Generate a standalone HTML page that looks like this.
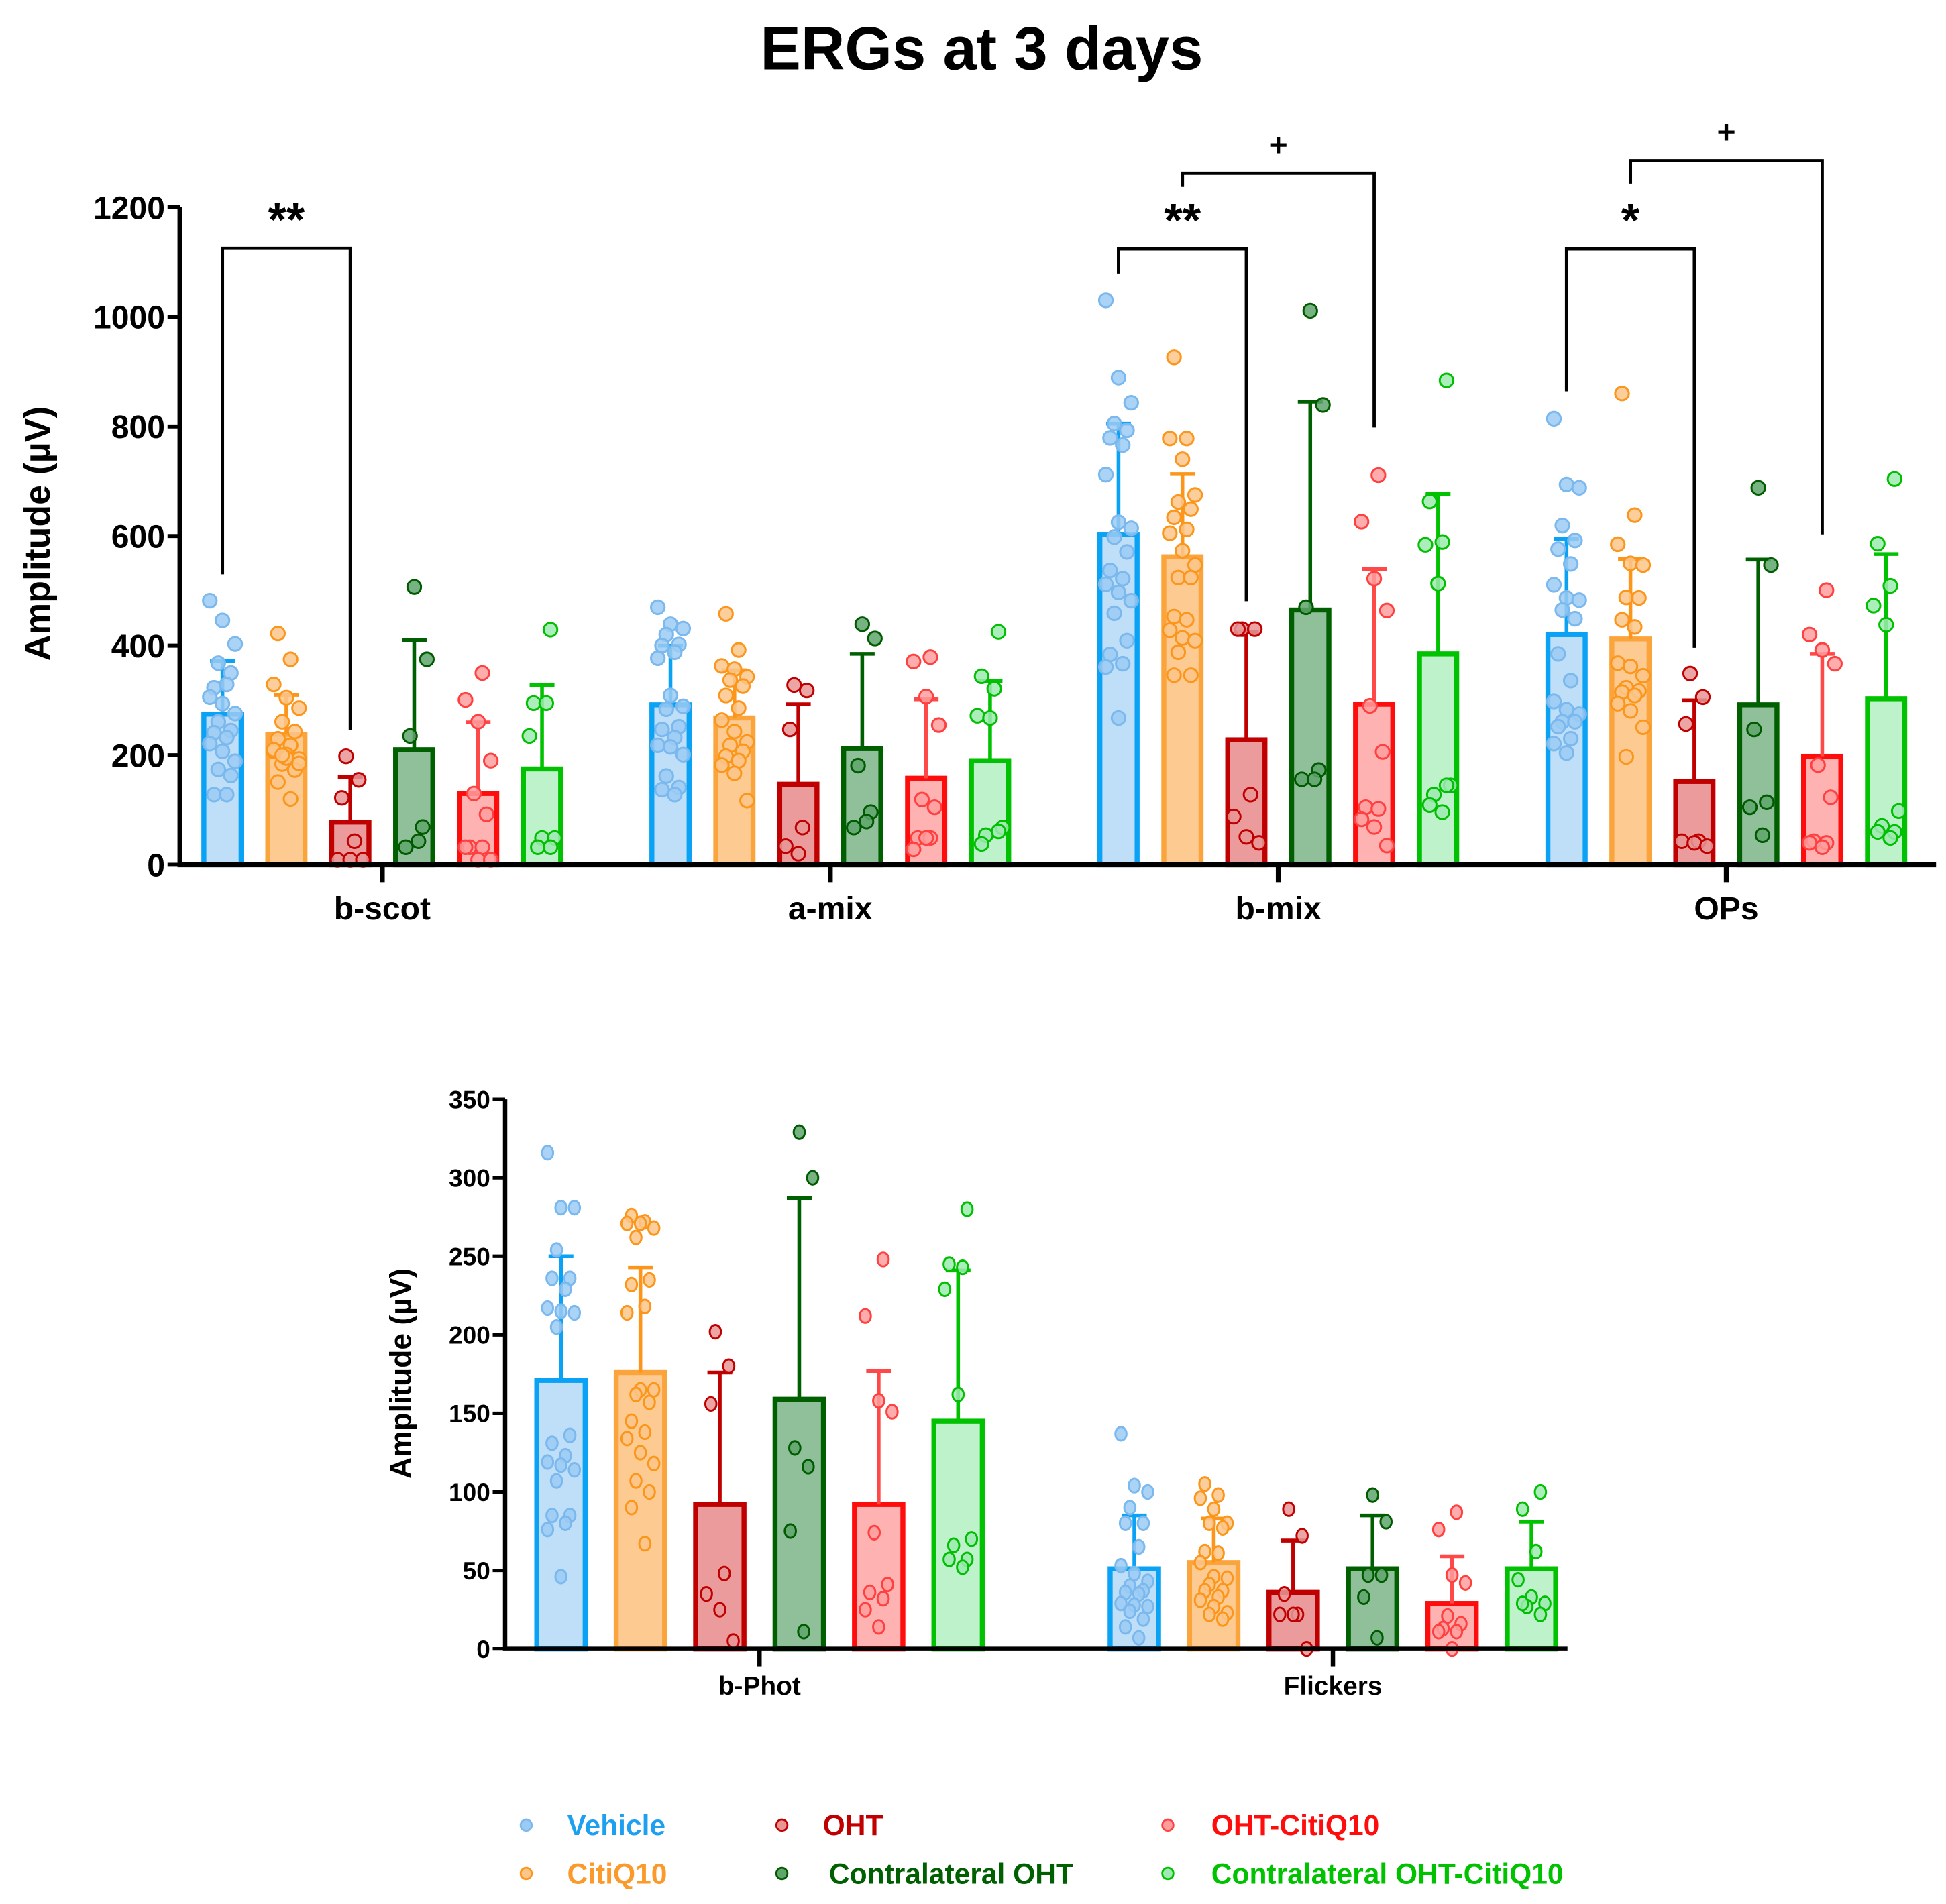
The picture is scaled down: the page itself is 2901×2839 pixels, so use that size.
<!DOCTYPE html>
<html><head><meta charset="utf-8"><style>
html,body{margin:0;padding:0;background:#fff;}
svg{display:block;font-family:"Liberation Sans",Arial,sans-serif;font-weight:bold;}
</style></head><body>
<svg id="chart" width="2901" height="2839" viewBox="0 0 1568 1534.6" preserveAspectRatio="none" xmlns="http://www.w3.org/2000/svg">
<text x="791" y="56" font-size="49" text-anchor="middle">ERGs at 3 days</text>
<g id="top"></g><g id="bottom"></g><g id="legend"></g>
</svg>
<script>
const topCategories = ["b-scot","a-mix","b-mix","OPs"];
const topTicks = [0,200,400,600,800,1000,1200];
const topMeans = [[275,238,78,210,130,175],[292,268,147,212,158,190],[603,562,228,465,293,385],[420,412,152,292,198,303]];
const topSD = [[372,310,160,410,260,328],[400,355,293,385,302,335],[805,713,425,845,540,677],[595,558,300,557,385,567]];
const topPoints = [
 [[482,446,403,368,350,323,329,306,294,276,261,245,241,232,221,207,189,174,163,128,128],
  [422,375,329,305,286,261,243,230,218,207,201,193,184,173,151,120,210,195,185,200],
  [198,155,122,43,9,9,9],
  [507,375,235,69,32,43],
  [350,301,261,190,130,92,32,32,32,9,9],
  [429,295,295,235,49,49,32,32]],
 [[470,439,431,420,402,400,388,377,309,289,284,252,247,232,218,215,201,162,141,137,128],
  [458,392,363,357,343,337,326,309,286,264,243,224,218,207,198,190,182,167,117],
  [328,318,247,68,34,20],
  [439,413,181,96,68,79],
  [379,371,307,255,119,105,49,49,28,49],
  [425,344,321,272,268,68,54,61,38]],
 [[1030,889,843,805,793,779,766,712,625,614,598,571,537,522,512,497,482,459,409,384,367,361,268],
  [926,778,778,740,675,662,649,634,612,605,573,547,524,524,453,447,428,414,409,388,346,346],
  [430,430,430,128,88,51,40],
  [1011,839,470,173,156,156],
  [711,626,522,464,290,206,105,102,83,69,35],
  [884,663,589,584,513,145,128,145,109,96]],
 [[814,694,688,619,592,576,549,511,487,483,465,449,385,336,298,283,275,261,261,252,230,221,204],
  [860,638,585,550,547,488,487,447,434,368,362,345,323,317,315,309,294,281,251,197],
  [349,306,257,43,43,40,34],
  [688,547,247,114,105,54],
  [501,420,392,367,182,123,43,40,40,32],
  [704,586,509,473,438,98,71,60,60,49]]
];
const botCategories = ["b-Phot","Flickers"];
const botTicks = [0,50,100,150,200,250,300,350];
const botMeans = [[171,176,92,159,92,145],[51,55,36,51,29,51]];
const botSD = [[250,243,176,287,177,241],[85,83,69,85,59,81]];
const botPoints = [
 [[316,281,281,254,236,236,229,217,215,214,205,136,131,123,119,117,114,107,85,85,80,76,46],
  [276,272,271,271,268,262,235,232,218,214,165,165,162,157,145,138,134,125,118,107,100,90,67],
  [202,180,156,48,35,25,5],
  [329,300,128,116,75,11],
  [248,212,158,151,74,41,36,32,25,14],
  [280,245,243,229,162,70,66,57,57,52]],
 [[137,104,100,90,80,80,65,53,48,43,40,37,36,35,29,28,27,24,19,14,7],
  [105,98,96,89,80,80,77,62,61,55,46,45,41,37,37,33,31,27,23,22,19],
  [89,72,35,22,22,22,0],
  [98,81,47,47,33,7],
  [87,76,47,42,21,16,13,11,11,0],
  [100,89,62,44,33,29,27,22,29]]
];
const seriesNames = ["Vehicle","CitiQ10","OHT","Contralateral OHT","OHT-CitiQ10","Contralateral OHT-CitiQ10"];
const sigLabels = ["**","**","+","*","+"];

const ST = [
 {s:'#0aa2f5',f:'#bfdff8',pf:'#9bcbf3',ps:'#7ab8ee',e:'#0aa2f5',t:'#1ea0f0'},
 {s:'#fba43c',f:'#fdcb92',pf:'#fcc589',ps:'#fb961a',e:'#fb961a',t:'#fb9a2a'},
 {s:'#c00000',f:'#eb9b9b',pf:'#e79595',ps:'#c00000',e:'#c00000',t:'#c00000'},
 {s:'#006000',f:'#8fc09a',pf:'#5fa56c',ps:'#005a00',e:'#005f00',t:'#005f00'},
 {s:'#ff0d0d',f:'#ffb2b2',pf:'#ff9d9d',ps:'#ff4040',e:'#ff4848',t:'#ff0d0d'},
 {s:'#00c200',f:'#bdf2cb',pf:'#9eeab0',ps:'#00bf00',e:'#00c200',t:'#00c200'}
];
const NS='http://www.w3.org/2000/svg';
function mk(parent,tag,attrs){const e=document.createElementNS(NS,tag);for(const k in attrs)e.setAttribute(k,attrs[k]);parent.appendChild(e);return e;}

function drawChart(g,cfg){
 const y=v=>cfg.y0-(v-0)*(cfg.y0-cfg.yTop)/cfg.max;
 const gx=i=>cfg.g0+i*cfg.gStep;
 const bx=(i,j)=>gx(i)+(j-2.5)*cfg.bStep;
 cfg.means.forEach((ms,i)=>{ms.forEach((m,j)=>{
  const st=ST[j];
  const bar=mk(g,'rect',{x:bx(i,j)-cfg.bw/2,y:y(m),width:cfg.bw,height:y(0)-y(m),fill:st.f,stroke:st.s,'stroke-width':cfg.sw});
  
  
  const sd=cfg.sd[i][j];
  const eb=mk(g,'path',{d:`M${bx(i,j)},${y(m)}V${y(sd)}M${bx(i,j)-cfg.cap},${y(sd)}H${bx(i,j)+cfg.cap}`,stroke:st.e,'stroke-width':cfg.sw*0.75,fill:'none'});
  
  
  cfg.pts[i][j].forEach((v,k)=>{
   const off=(((k*3+j)%7)-3)*cfg.jit;
   const c=mk(g,'ellipse',{cx:bx(i,j)+off,cy:y(v),rx:cfg.r,ry:cfg.ry,fill:st.pf,stroke:st.ps,'stroke-width':1.6,'fill-opacity':0.85});
   
   
  });
 });});
 const ax=mk(g,'path',{d:`M${cfg.ax},${cfg.yTop}V${cfg.y0}H${cfg.xEnd}`,stroke:'#000','stroke-width':cfg.aw,fill:'none'});
 
 
 cfg.ticks.forEach(t=>{
  mk(g,'line',{x1:cfg.ax-cfg.tl,x2:cfg.ax,y1:y(t),y2:y(t),stroke:'#000','stroke-width':cfg.aw*0.8});
  const tx=mk(g,'text',{x:cfg.ax-cfg.tl-2,y:y(t)+cfg.tfs*0.36,'font-size':cfg.tfs,'text-anchor':'end'});
  tx.textContent=t;
  
  
 });
 cfg.cats.forEach((c,i)=>{
  mk(g,'line',{x1:gx(i),x2:gx(i),y1:cfg.y0,y2:cfg.y0+cfg.ctl,stroke:'#000','stroke-width':cfg.aw});
  const tx=mk(g,'text',{x:gx(i),y:cfg.catY,'font-size':cfg.cfs,'text-anchor':'middle'});
  tx.textContent=c;
  
  
 });
 const yl=mk(g,'text',{x:0,y:0,'font-size':cfg.lfs,'text-anchor':'middle',transform:`translate(${cfg.lx},${cfg.ly}) rotate(-90)`});
 yl.textContent='Amplitude (µV)';
 
 
 return {y,bx};
}

const T=drawChart(document.getElementById('top'),{y0:697,yTop:167,max:1200,g0:308,gStep:361,bStep:51.5,bw:30,sw:4,cap:10,r:5.5,ry:5.5,jit:3.4,
 ax:145,xEnd:1560,aw:4,tl:10,tfs:26,ticks:topTicks,cats:topCategories,means:topMeans,sd:topSD,pts:topPoints,ctl:14,catY:741,cfs:26,lfs:29,lx:40,ly:430});
drawChart(document.getElementById('bottom'),{y0:1329,yTop:886,max:350,g0:612,gStep:462,bStep:64,bw:39,sw:4,cap:10,r:4.5,ry:5.5,jit:3.6,
 ax:407,xEnd:1263,aw:3.5,tl:10,tfs:20,ticks:botTicks,cats:botCategories,means:botMeans,sd:botSD,pts:botPoints,ctl:14,catY:1366,cfs:21,lfs:24,lx:331,ly:1107});

const brackets=[[0,0,2,530,1125,246],[2,0,2,1079,1124,481],[2,1,4,1237,1262,798],[3,0,2,864,1124,396],[3,1,4,1243,1285,603]];
const tg=document.getElementById('top');
brackets.forEach((b,k)=>{
 const x1=T.bx(b[0],b[1]),x2=T.bx(b[0],b[2]);
 const p=mk(tg,'path',{d:`M${x1},${T.y(b[3])}V${T.y(b[4])}H${x2}V${T.y(b[5])}`,stroke:'#000','stroke-width':2.6,fill:'none'});
 
 
 const plus=sigLabels[k]==='+';
 const t=mk(tg,'text',{x:(x1+x2)/2,y:T.y(b[4])-(plus?14:-2)-(plus?0:12),'font-size':plus?26:38,'text-anchor':'middle'});
 t.textContent=sigLabels[k];
 
 
});

const lg=document.getElementById('legend');
const lpos=[[424,1471],[630,1471],[941,1471],[424,1510],[630,1510],[941,1510]];
const lorder=[0,2,4,1,3,5];
const ltx=[457,663,976,457,668,976];
lorder.forEach((si,k)=>{
 const [x,yy]=lpos[k];
 const c=mk(lg,'circle',{cx:x,cy:yy,r:4.5,fill:ST[si].pf,stroke:ST[si].ps,'stroke-width':1.5});
 
 
 const t=mk(lg,'text',{x:ltx[k],y:yy+8,'font-size':23,fill:ST[si].t});
 t.textContent=seriesNames[si];
 
 
});
</script>
</body></html>
